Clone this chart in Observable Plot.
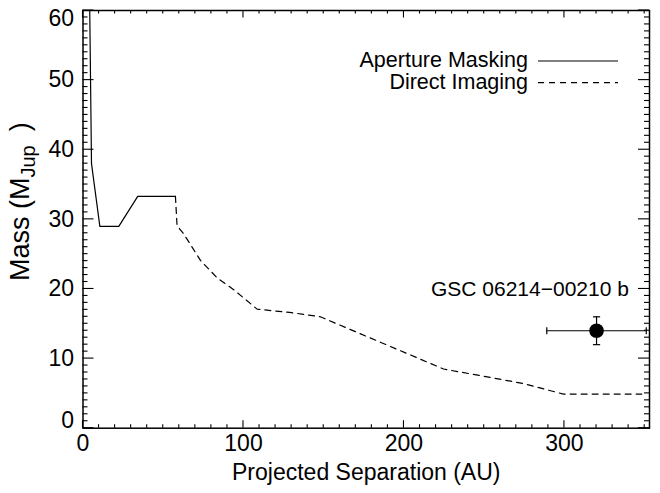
<!DOCTYPE html>
<html><head><meta charset="utf-8">
<script src="https://cdn.jsdelivr.net/npm/d3@7"></script>
<script src="https://cdn.jsdelivr.net/npm/@observablehq/plot@0.6"></script>
<style>body{margin:0;background:#fff}svg{display:block}</style>
</head><body><div id="chart"></div>
<script>
// Aperture masking detection limit (solid)
const amSep  = [4.15, 5.3, 10.5, 22.3, 34.1, 57.6];
const amMass = [61.0, 38.0, 29.0, 29.0, 33.3, 33.3];
// Direct imaging detection limit (dashed)
const diSep  = [57.6, 58.6, 62.8, 73.2, 83.6, 93.9, 108.5, 130, 147.9, 224.7, 253.7, 274.5, 299.4, 348.2];
const diMass = [33.3, 29.1, 27.9, 24.1, 21.6, 19.9, 17.1, 16.6, 16.0, 8.5, 7.3, 6.4, 4.9, 4.9];
// Companion
const compName = ["GSC 06214\u221200210 b"];
const compSep = [320];
const compMass = [14];
const compSepErr = [31];
const compMassErr = [2];
// Axes
const xTicks = [0, 100, 200, 300];
const yTicks = [0, 10, 20, 30, 40, 50, 60];
const xTitle = "Projected Separation (AU)";
const yTitleMain = "Mass (M";
const yTitleSub = "Jup";
const legendLabels = ["Aperture Masking", "Direct Imaging"];
const legendDash = [null, "6,5"];

const am = amSep.map((s, i) => ({sep: s, mass: amMass[i]}));
const di = diSep.map((s, i) => ({sep: s, mass: diMass[i]}));
const comp = compSep.map((s, i) => ({name: compName[i], sep: s, mass: compMass[i], se: compSepErr[i], me: compMassErr[i]}));

const FONT = "'Liberation Sans', Arial, Helvetica, sans-serif";
const capSymbol = {draw(ctx, size) { const r = Math.sqrt(size / Math.PI); ctx.moveTo(0, -r); ctx.lineTo(0, r); }};

function axesMark(index, scales, values, dims) {
  const {x, y} = scales;
  const {width, height, marginLeft: l, marginTop: t, marginRight, marginBottom} = dims;
  const r = width - marginRight, b = height - marginBottom;
  const g = d3.create("svg:g").attr("stroke", "black").attr("stroke-width", 1.1).attr("fill", "none");
  const xMinor = d3.range(0, 360, 10), yMinor = d3.range(0, 61, 1);
  const seg = (x1, y1, x2, y2) => g.append("line").attr("x1", x1).attr("y1", y1).attr("x2", x2).attr("y2", y2);
  for (const v of xMinor) {
    const px = x(v), len = xTicks.includes(v) ? 7.5 : 3.5;
    seg(px, b, px, b - len); seg(px, t, px, t + len);
  }
  for (const v of yMinor) {
    const py = y(v), len = yTicks.includes(v) ? 11 : 5;
    seg(l, py, l + len, py); seg(r, py, r - len, py);
  }
  // y title with subscript
  const txt = g.append("text").attr("stroke", "none").attr("fill", "black")
    .attr("font-size", 27).attr("font-family", FONT).attr("text-anchor", "start")
    .attr("transform", `translate(29,281) rotate(-90)`);
  txt.append("tspan").text(yTitleMain);
  txt.append("tspan").attr("font-size", 20).attr("dy", 6).text(yTitleSub);
  txt.append("tspan").attr("dy", -6).attr("dx", 14).text(")");
  // legend
  legendLabels.forEach((lab, i) => {
    const ly = t + 51 + i * 21.7;
    const ln = seg(r - 111, ly, r - 31, ly).attr("stroke-width", 1.2);
    if (legendDash[i]) ln.attr("stroke-dasharray", legendDash[i]);
    g.append("text").attr("stroke", "none").attr("fill", "black").attr("font-size", 21.5)
      .attr("font-family", FONT).attr("text-anchor", "end").attr("dominant-baseline", "central")
      .attr("x", r - 121).attr("y", ly - 1).text(lab);
  });
  return g.node();
}

const chart = Plot.plot({
  width: 660, height: 493,
  marginLeft: 82.5, marginRight: 11, marginTop: 10, marginBottom: 65.3,
  style: {fontFamily: FONT, background: "white", color: "black"},
  x: {domain: [0, 353], axis: null},
  y: {domain: [0, 60], axis: null},
  marks: [
    Plot.line(am, {x: "sep", y: "mass", stroke: "black", strokeWidth: 1.2, clip: true}),
    Plot.line(di, {x: "sep", y: "mass", stroke: "black", strokeWidth: 1.2, strokeDasharray: "6,5"}),
    Plot.ruleY(comp, {y: "mass", x1: d => d.sep - d.se, x2: d => d.sep + d.se, stroke: "black", strokeWidth: 1.2}),
    Plot.ruleX(comp, {x: "sep", y1: d => d.mass - d.me, y2: d => d.mass + d.me, stroke: "black", strokeWidth: 1.2}),
    Plot.dot(comp, {x: d => d.sep - d.se, y: "mass", symbol: capSymbol, r: 3.6, stroke: "black", strokeWidth: 1.2}),
    Plot.dot(comp, {x: d => d.sep + d.se, y: "mass", symbol: capSymbol, r: 3.6, stroke: "black", strokeWidth: 1.2}),
    Plot.dot(comp, {x: "sep", y: d => d.mass - d.me, symbol: capSymbol, rotate: 90, r: 3.6, stroke: "black", strokeWidth: 1.2}),
    Plot.dot(comp, {x: "sep", y: d => d.mass + d.me, symbol: capSymbol, rotate: 90, r: 3.6, stroke: "black", strokeWidth: 1.2}),
    Plot.dot(comp, {x: "sep", y: "mass", r: 7.3, fill: "black"}),
    Plot.text(comp, {x: d => d.sep - 41.5, y: d => d.mass + 6, text: "name", fontSize: 21, fill: "black"}),
    Plot.frame({stroke: "black", strokeWidth: 1.5}),
    axesMark,
    Plot.text(xTicks, {x: d => d, frameAnchor: "bottom", dy: 23, text: d => String(d), fontSize: 23, fill: "black"}),
    Plot.text(yTicks.filter(d => d > 0 && d < 60), {y: d => d, frameAnchor: "left", dx: -9, textAnchor: "end", text: d => String(d), fontSize: 23, fill: "black"}),
    Plot.text([0], {y: d => d, frameAnchor: "left", dx: -9, dy: -8, textAnchor: "end", text: d => String(d), fontSize: 23, fill: "black"}),
    Plot.text([60], {y: d => d, frameAnchor: "left", dx: -9, dy: 8, textAnchor: "end", text: d => String(d), fontSize: 23, fill: "black"}),
    Plot.text([xTitle], {frameAnchor: "bottom", dy: 52, text: d => d, fontSize: 23, fill: "black"})
  ]
});
document.getElementById("chart").appendChild(chart);
</script>
</body></html>
